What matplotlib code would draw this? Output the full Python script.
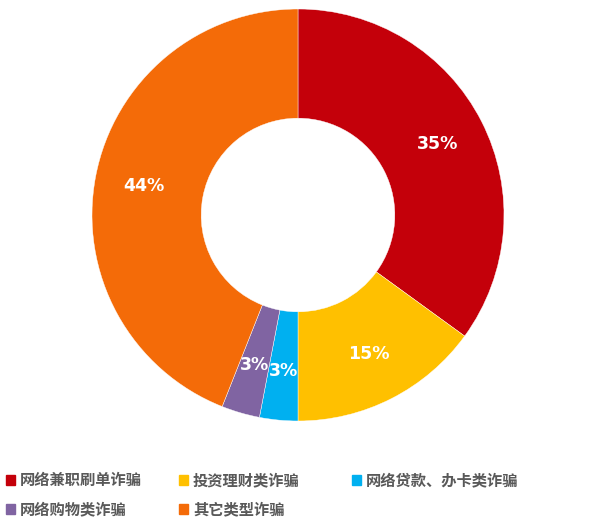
import matplotlib.pyplot as plt
from matplotlib.patches import Rectangle

plt.rcParams['font.family'] = ['Noto Sans CJK SC', 'DejaVu Sans']

# -----------------------------
# Data
# -----------------------------
categories = ["网络兼职刷单诈骗", "投资理财类诈骗", "网络贷款、办卡类诈骗",
              "网络购物类诈骗", "其它类型诈骗"]
shares = [35, 15, 3, 3, 44]
colors = ["#C4000A", "#FFC000", "#00B0F0", "#8064A2", "#F46B08"]

W, H = 600, 525
fig = plt.figure(figsize=(6, 5.25), dpi=100)

# donut axes: centre (298, 215) px, outer radius ~206 px
cx, cy, r = 298, 215, 206
ax = fig.add_axes([(cx - r) / W, (H - cy - r) / H, 2 * r / W, 2 * r / H])
wedges, texts, autotexts = ax.pie(
    shares, colors=colors, startangle=90, counterclock=False,
    autopct=lambda p: f"{p:.0f}%", pctdistance=0.76,
    wedgeprops=dict(width=0.53, edgecolor="white", linewidth=0.3),
    textprops=dict(color="white", fontsize=12.5, fontweight="bold",
                   family="DejaVu Sans"))
ax.set_xlim(-1, 1)
ax.set_ylim(-1, 1)
ax.set_aspect("equal")
ax.axis("off")

# -----------------------------
# Legend (two rows, laid out by hand)
# -----------------------------
slots = [(6, 480), (179, 480), (352, 480), (6, 509), (179, 509)]
for (x, y), name, col in zip(slots, categories, colors):
    fig.patches.append(Rectangle((x / W, (H - y - 5) / H), 9 / W, 10 / H,
                                 color=col, transform=fig.transFigure))
    fig.text((x + 14) / W, (H - y) / H, name, fontsize=11, color="#595959",
             fontweight="bold", va="center", ha="left")

fig.savefig("out.png", dpi=100, facecolor="white")
